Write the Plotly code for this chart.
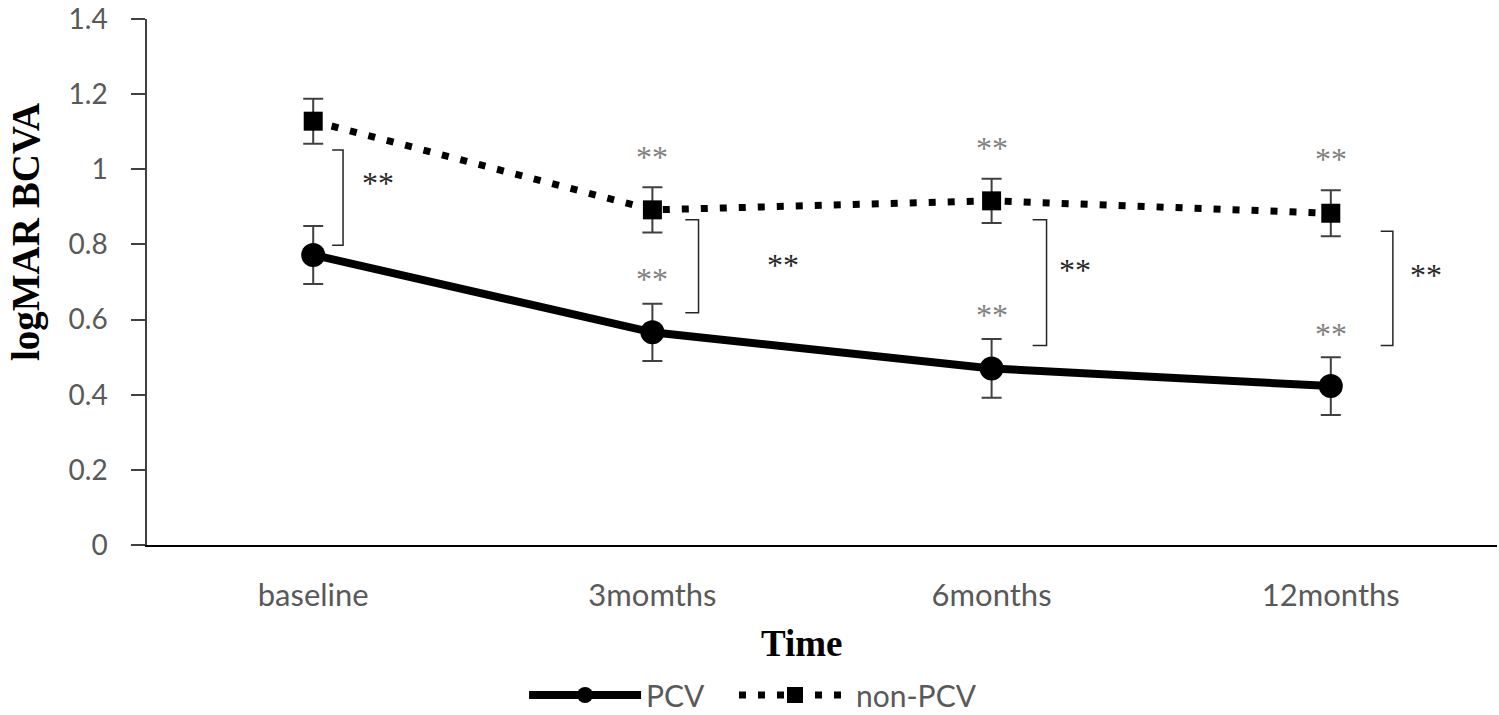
import plotly.graph_objects as go

categories = ["baseline", "3momths", "6months", "12months"]
x_idx = [0, 1, 2, 3]

pcv_mean = [0.772, 0.566, 0.470, 0.423]
pcv_err = [0.077, 0.076, 0.078, 0.077]
nonpcv_mean = [1.128, 0.892, 0.916, 0.883]
nonpcv_err = [0.060, 0.060, 0.059, 0.061]

# gray significance stars (within-group vs baseline)
star_nonpcv_x = [1, 2, 3]
star_nonpcv_y = [1.033, 1.057, 1.027]
star_pcv_x = [1, 2, 3]
star_pcv_y = [0.708, 0.612, 0.562]

# between-group brackets: x0, x1, y_top, y_bottom, label x, label y
br_x0 = [0.056, 1.097, 2.121, 3.147]
br_x1 = [0.088, 1.136, 2.162, 3.183]
br_ytop = [1.051, 0.866, 0.866, 0.835]
br_ybot = [0.798, 0.618, 0.531, 0.531]
br_lab_x = [0.19, 1.386, 2.245, 3.28]
br_lab_y = [0.964, 0.745, 0.732, 0.718]

fig = go.Figure()

fig.add_trace(go.Scatter(
    x=x_idx, y=pcv_mean, name="PCV", mode="lines+markers", legend="legend",
    line=dict(color="black", width=8),
    marker=dict(symbol="circle", size=24, color="black"),
    error_y=dict(type="data", array=pcv_err, visible=True, color="#404040", thickness=2, width=10),
))
fig.add_trace(go.Scatter(
    x=x_idx, y=nonpcv_mean, name="non-PCV", mode="lines+markers", legend="legend2",
    line=dict(color="black", width=7, dash="7px,12px"),
    marker=dict(symbol="square", size=19, color="black"),
    error_y=dict(type="data", array=nonpcv_err, visible=True, color="#404040", thickness=2, width=10),
))

annotations = []
for xs, ys in ((star_nonpcv_x, star_nonpcv_y), (star_pcv_x, star_pcv_y)):
    for xv, yv in zip(xs, ys):
        annotations.append(dict(x=xv, y=yv, xref="x", yref="y", text="**", showarrow=False,
                                font=dict(family="Liberation Serif", size=32, color="#808080")))

shapes = []
for x0, x1, yt, yb, lx, ly in zip(br_x0, br_x1, br_ytop, br_ybot, br_lab_x, br_lab_y):
    shapes.append(dict(type="path", xref="x", yref="y",
                       path=f"M {x0},{yt} L {x1},{yt} L {x1},{yb} L {x0},{yb}",
                       line=dict(color="#262626", width=1.5)))
    annotations.append(dict(x=lx, y=ly, xref="x", yref="y", text="**", showarrow=False,
                            font=dict(family="Liberation Serif", size=32, color="#262626")))

# axis titles (placed as in the reference, off-centre)
annotations.append(dict(x=-0.0896, y=0.595, xref="paper", yref="paper", text="<b>logMAR BCVA</b>",
                        textangle=-90, showarrow=False, xanchor="center", yanchor="middle",
                        font=dict(family="Liberation Serif", size=39, color="black")))
annotations.append(dict(x=0.485, y=-0.187, xref="paper", yref="paper", text="<b>Time</b>",
                        showarrow=False, xanchor="center", yanchor="middle",
                        font=dict(family="Liberation Serif", size=37, color="black")))

legend_font = dict(family="Lato", size=30, color="#595959")

fig.update_layout(
    width=1499, height=715,
    margin=dict(l=147, r=2, t=19, b=170, autoexpand=False),
    plot_bgcolor="white", paper_bgcolor="white",
    showlegend=True,
    legend=dict(orientation="h", x=0.2793, xanchor="left", y=0.028, yanchor="middle",
                yref="container", itemwidth=112, font=legend_font),
    legend2=dict(orientation="h", x=0.4348, xanchor="left", y=0.028, yanchor="middle",
                 yref="container", itemwidth=112, font=legend_font),
    annotations=annotations, shapes=shapes,
    xaxis=dict(
        range=[-0.49, 3.49], tickvals=x_idx, ticktext=categories, automargin=False,
        showline=True, linecolor="black", linewidth=2, showgrid=False, zeroline=False,
        ticks="", ticklabelstandoff=22,
        tickfont=dict(family="Lato", size=31, color="#595959"),
    ),
    yaxis=dict(
        range=[0, 1.4], tickvals=[0, 0.2, 0.4, 0.6, 0.8, 1, 1.2, 1.4],
        ticktext=["0", "0.2", "0.4", "0.6", "0.8", "1", "1.2", "1.4"], automargin=False,
        showline=True, linecolor="#404040", linewidth=1.5, showgrid=False, zeroline=False,
        ticks="outside", ticklen=14, tickcolor="#404040", tickwidth=1.5, ticklabelstandoff=18,
        ticklabeloverflow="allow",
        tickfont=dict(family="Lato", size=28, color="#595959"),
    ),
)

fig.write_html("out.html")
